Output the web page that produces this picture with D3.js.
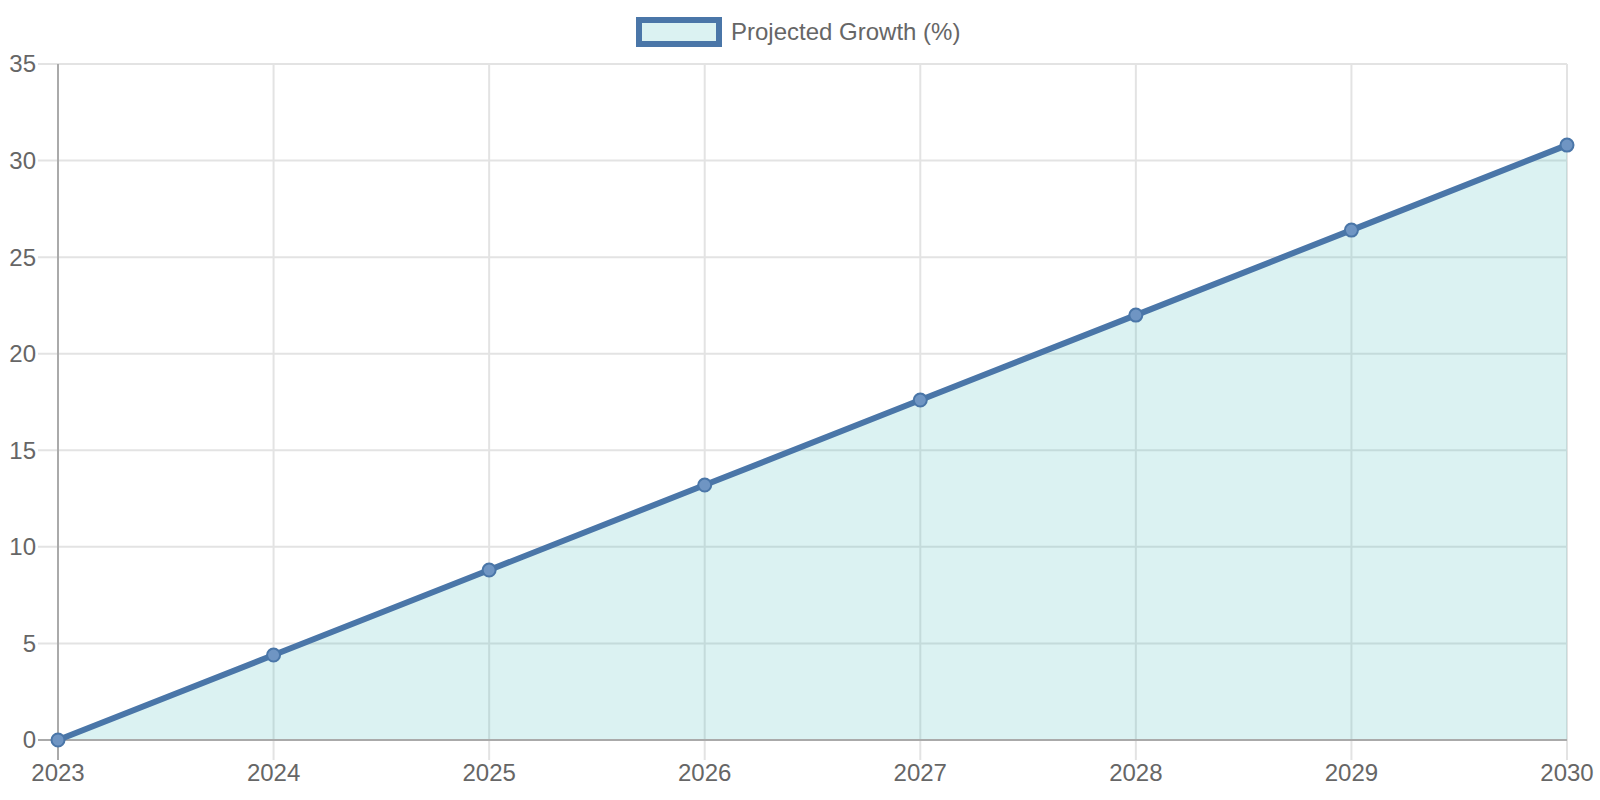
<!DOCTYPE html>
<html>
<head>
<meta charset="utf-8">
<script src="https://cdn.jsdelivr.net/npm/d3@7"></script>
<style>
  body { margin: 0; background: #fff; }
  svg { display: block; font-family: "Liberation Sans", Arial, sans-serif; }
</style>
</head>
<body>
<svg id="chart"></svg>
<script>
// data
const years = ["2023", "2024", "2025", "2026", "2027", "2028", "2029", "2030"];
const growth = [0, 4.4, 8.8, 13.2, 17.6, 22.0, 26.4, 30.8];
const yTicks = [0, 5, 10, 15, 20, 25, 30, 35];
const seriesName = "Projected Growth (%)";

const W = 1600, H = 800;
const margin = { top: 64, right: 33, bottom: 60, left: 58 };
const width = W - margin.left - margin.right;
const height = H - margin.top - margin.bottom;

const lineColor = "#4a76a8";
const fillColor = "rgba(75,192,192,0.2)";
const gridColor = "#e3e3e3";
const axisColor = "#aaaaaa";
const textColor = "#666";

const svg = d3.select("#chart").attr("width", W).attr("height", H);
const g = svg.append("g").attr("transform", `translate(${margin.left},${margin.top})`);

const x = d3.scalePoint().domain(years).range([0, width]);
const y = d3.scaleLinear().domain([0, 35]).range([height, 0]);

// grid lines (vertical) with tick marks below
g.append("g")
  .selectAll("line")
  .data(years)
  .join("line")
  .attr("x1", d => x(d)).attr("x2", d => x(d))
  .attr("y1", 0).attr("y2", height + 20)
  .attr("stroke", (d, i) => i === 0 ? axisColor : gridColor)
  .attr("stroke-width", 2);

// grid lines (horizontal) with tick marks left
g.append("g")
  .selectAll("line")
  .data(yTicks)
  .join("line")
  .attr("x1", -20).attr("x2", width)
  .attr("y1", d => y(d)).attr("y2", d => y(d))
  .attr("stroke", d => d === 0 ? axisColor : gridColor)
  .attr("stroke-width", 2);

// area
const area = d3.area()
  .x((d, i) => x(years[i]))
  .y0(y(0))
  .y1(d => y(d));

g.append("path")
  .datum(growth)
  .attr("d", area)
  .attr("fill", fillColor);

// redraw axis lines on top of fill
g.append("line")
  .attr("x1", 0).attr("x2", width)
  .attr("y1", y(0)).attr("y2", y(0))
  .attr("stroke", axisColor).attr("stroke-width", 2);
g.append("line")
  .attr("x1", 0).attr("x2", 0)
  .attr("y1", 0).attr("y2", height + 20)
  .attr("stroke", axisColor).attr("stroke-width", 2);

// line
const line = d3.line()
  .x((d, i) => x(years[i]))
  .y(d => y(d));

g.append("path")
  .datum(growth)
  .attr("d", line)
  .attr("fill", "none")
  .attr("stroke", lineColor)
  .attr("stroke-width", 6)
  .attr("stroke-linejoin", "round");

// points
g.append("g")
  .selectAll("circle")
  .data(growth)
  .join("circle")
  .attr("cx", (d, i) => x(years[i]))
  .attr("cy", d => y(d))
  .attr("r", 6.5)
  .attr("fill", "#6f95c3")
  .attr("stroke", lineColor)
  .attr("stroke-width", 2);

// y labels
g.append("g")
  .selectAll("text")
  .data(yTicks)
  .join("text")
  .attr("x", -22)
  .attr("y", d => y(d))
  .attr("dy", "0.35em")
  .attr("text-anchor", "end")
  .attr("font-size", 24)
  .attr("fill", textColor)
  .text(d => d);

// x labels
g.append("g")
  .selectAll("text")
  .data(years)
  .join("text")
  .attr("x", d => x(d))
  .attr("y", height + 41)
  .attr("text-anchor", "middle")
  .attr("font-size", 24)
  .attr("fill", textColor)
  .text(d => d);

// legend
const legend = svg.append("g").attr("transform", "translate(639,20)");
legend.append("rect")
  .attr("width", 80).attr("height", 24)
  .attr("fill", fillColor)
  .attr("stroke", lineColor)
  .attr("stroke-width", 6);
legend.append("text")
  .attr("x", 92).attr("y", 12)
  .attr("dy", "0.35em")
  .attr("font-size", 24)
  .attr("fill", textColor)
  .text(seriesName);
</script>
</body>
</html>
